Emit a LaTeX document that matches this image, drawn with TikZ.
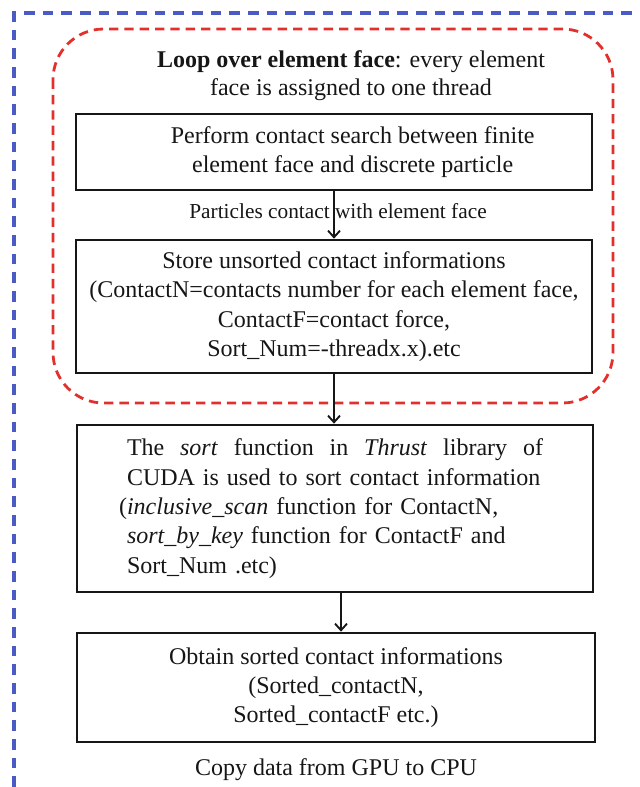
\documentclass[tikz,border=0pt]{standalone}
\usepackage{fontspec}
\setmainfont{Liberation Serif}
\definecolor{fcFrame}{HTML}{4A5CC4}
\definecolor{fcLoop}{HTML}{E2302C}
\definecolor{fcText}{HTML}{161616}
\usetikzlibrary{arrows.meta}

\begin{document}
\begin{tikzpicture}[x=0.75pt, y=-0.75pt,
  stepbox/.style={draw=fcText, line width=2pt, inner sep=0pt, align=center,
    text=fcText, font=\fontsize{18}{22}\selectfont},
  flow/.style={draw=fcText, line width=1.4pt, -{Straight Barb[length=5pt,width=9pt]}}]
  \useasboundingbox (0,0) rectangle (639,787);
  \draw[fcFrame, line width=2.4pt, dash pattern=on 8pt off 6pt] (14,787) -- (14,13) -- (639,13);
  \draw[fcLoop, line width=2.1pt, dash pattern=on 7pt off 4.5pt, rounded corners=38pt] (53,29) rectangle (613,403);
  \node[align=center, text=fcText, font=\fontsize{18}{21}\selectfont] (loop) at (351,76) {
    \textbf{Loop over element face}: every element\\face is assigned to one thread};
  \node[stepbox, minimum width=387pt, minimum height=57pt] (search) at (334,152) {
    \hspace*{28pt}Perform contact search between finite\\\hspace*{28pt}element face and discrete particle};
  \node[stepbox, minimum width=387pt, minimum height=99.75pt] (store) at (334,306.5) {
    Store unsorted contact informations\\(ContactN=contacts number for each element face,\\ContactF=contact force,\\Sort\_Num=-threadx.x).etc};
  \node[stepbox, align=left, text width=312pt, minimum width=387pt, minimum height=125.25pt] (sort) at (335,508.5) {
    \makebox[312pt][l]{The\hfill\textit{sort}\hfill function\hfill in\hfill\textit{Thrust}\hfill library\hfill of}\\
    CUDA is used to sort contact information\\
    \leavevmode\llap{(}\textit{inclusive\_scan} function for ContactN,\\
    \textit{sort\_by\_key} function for ContactF and\\
    Sort\_Num .etc)};
  \node[stepbox, minimum width=388.5pt, minimum height=81.75pt] (result) at (336,687.5) {
    Obtain sorted contact informations\\(Sorted\_contactN,\\Sorted\_contactF etc.)};
  \node[text=fcText, font=\fontsize{16}{19}\selectfont] (hit) at (338,211) {Particles contact with element face};
  \node[text=fcText, font=\fontsize{18}{22}\selectfont] (copy) at (336,770) {Copy data from GPU to CPU};
  \draw[flow] (search) -- (store);
  \draw[flow] (store.south) -- (store.south |- sort.north);
  \draw[flow] ([xshift=4.5pt]sort.south) -- ([xshift=4.5pt]sort.south |- result.north);
\end{tikzpicture}
\end{document}
